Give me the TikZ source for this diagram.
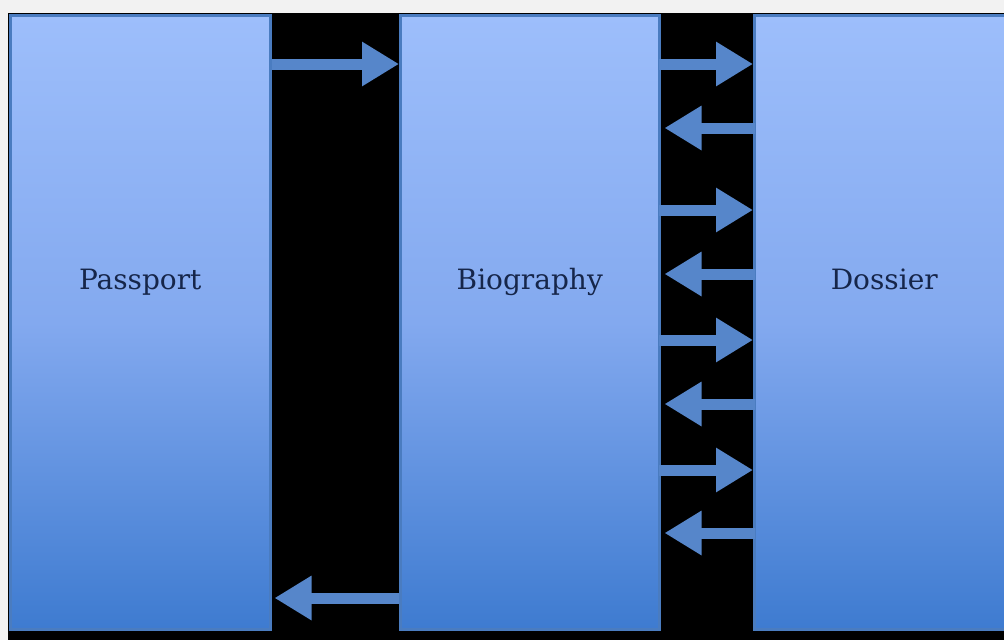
\documentclass[tikz,border=0pt]{standalone}
\usepackage{fontspec}
\setmainfont{DejaVu Serif}
\usetikzlibrary{arrows.meta}

\definecolor{pagegray}{HTML}{F2F2F2}
\definecolor{boxtop}{HTML}{9DBEFB}
\definecolor{boxmid}{HTML}{83A9EF}
\definecolor{boxbottom}{HTML}{3E7BD0}
\definecolor{boxedge}{HTML}{4A7CC0}
\definecolor{flowblue}{HTML}{5686CA}
\definecolor{labelnavy}{HTML}{16264A}

\tikzset{
  stage/.style={draw=boxedge, line width=2.5pt, top color=boxtop, bottom color=boxbottom,
    middle color=boxmid, minimum height=614pt, inner sep=0pt, anchor=north west},
  stagetext/.style={font=\fontsize{28}{32}\selectfont, text=labelnavy,
    text height=20pt, text depth=6pt, inner sep=0pt, yshift=40pt},
  flow/.style={draw=flowblue, line width=11pt,
    -{Triangle[length=37pt,width=42pt,fill=flowblue]}}
}

\begin{document}
\begin{tikzpicture}[x=1pt,y=-1pt]
  % page and dark backdrop
  \fill[pagegray] (0,0) rectangle (1004,640);
  \useasboundingbox (0,0) rectangle (1004,640);
  \fill[black] (8,13) rectangle (1004,640);

  % the three stages
  \node[stage, minimum width=260pt, label={[stagetext]center:Passport}] (passport) at (9,14) {};
  \node[stage, minimum width=259pt, label={[stagetext]center:Biography}] (biography) at (399,14) {};
  \node[stage, minimum width=256pt, label={[stagetext, xshift=2pt]center:Dossier}] (dossier) at (753,14) {};

  % passport -> biography and the return path
  \draw[flow] (passport.east |- 0,64) -- (biography.west |- 0,64);
  \draw[flow] (biography.west |- 0,598) -- ([xshift=3pt]passport.east |- 0,598);

  % exchanges between biography and dossier
  \foreach \y in {64,210,340,470}
    \draw[flow] ([xshift=-2pt]biography.east |- 0,\y) -- (dossier.west |- 0,\y);
  \foreach \y in {128,274,404,533}
    \draw[flow] ([xshift=2pt]dossier.west |- 0,\y) -- ([xshift=4pt]biography.east |- 0,\y);
\end{tikzpicture}
\end{document}
